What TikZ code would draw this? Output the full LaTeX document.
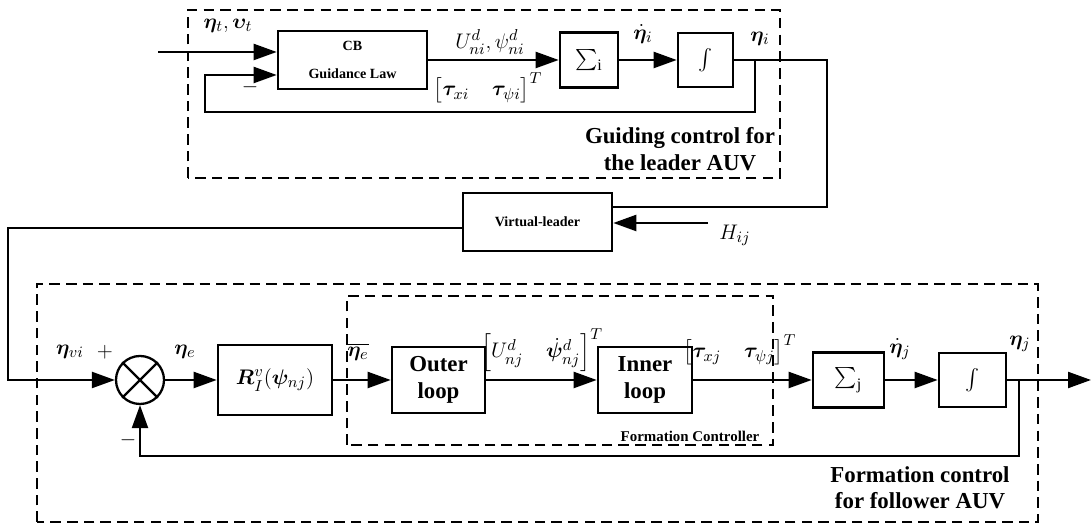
\documentclass[tikz,border=0pt]{standalone}
\usepackage{amsmath,bm}
\usepackage{fontspec}
\setmainfont{Liberation Serif}
\usetikzlibrary{arrows.meta}

\begin{document}
\begin{tikzpicture}[font=\fontsize{13}{15}\selectfont,
    block/.style={draw, line width=1.5pt, inner sep=0pt, align=center},
    frame/.style={draw, line width=1.5pt, dash pattern=on 6pt off 3.5pt},
    sig/.style={line width=1.3pt, -{Triangle[length=0.46cm,width=0.32cm]}},
    wire/.style={line width=1.3pt},
    lab/.style={font=\fontsize{8}{10}\selectfont\bfseries, align=center},
    note/.style={font=\fontsize{13}{15}\selectfont\bfseries, align=center}]
    \useasboundingbox (0,0) rectangle (21.84,10.48);

    % dashed frames
    \draw[frame] (3.76,6.92) rectangle (15.6,10.28);
    \draw[frame] (0.74,0.04) rectangle (20.76,4.8);
    \draw[frame] (6.94,1.58) rectangle (15.46,4.56);

    % leader loop
    \node[block, lab, minimum width=2.98cm, minimum height=1.16cm] (cb) at (7.05,9.28) {CB\\[6pt]Guidance Law};
    \node[block, minimum width=1.16cm, minimum height=1.1cm] (sumi) at (11.78,9.28) {$\sum_{\mathrm{i}}$};
    \node[block, minimum width=1.1cm, minimum height=1.08cm] (inti) at (14.11,9.28) {$\int$};
    \node[block, lab, minimum width=2.98cm, minimum height=1.16cm] (vl) at (10.75,6.04) {\raisebox{-3pt}{Virtual-leader}};

    % follower loop
    \node[draw, circle, line width=1.3pt, minimum size=0.96cm] (sum) at (2.8,2.88) {};
    \draw[line width=1.3pt] (sum.45) -- (sum.225) (sum.135) -- (sum.315);
    \node[block, minimum width=2.28cm, minimum height=1.4cm] (rot) at (5.5,2.88) {$\bm{R}_I^v(\bm{\psi}_{nj})$};
    \node[block, note, minimum width=1.86cm, minimum height=1.32cm] (outer) at (8.77,2.88) {Outer\\loop};
    \node[block, note, minimum width=1.88cm, minimum height=1.32cm] (inner) at (12.9,2.88) {Inner\\loop};
    \node[block, minimum width=1.42cm, minimum height=1.1cm] (sumj) at (16.97,2.88) {$\sum_{\mathrm{j}}$};
    \node[block, minimum width=1.34cm, minimum height=1.08cm] (intj) at (19.45,2.88) {$\int$};

    \coordinate (tin) at (3.16,9.44);
    \coordinate (ti) at (15.1,9.28);
    \coordinate (tl) at (4.1,8.24);
    \coordinate (lo) at (16.54,6.34);
    \coordinate (h) at (14.16,6.02);
    \coordinate (vo) at (0.16,5.92);
    \coordinate (tj) at (20.38,2.88);
    \coordinate (jo) at (21.82,2.88);
    \coordinate (fb) at (2.8,1.36);

    \draw[sig] (tin) -- (tin -| cb.west);
    \draw[sig] (ti) |- (tl) |- ([yshift=-0.3cm]cb.west);
    \draw[sig] (cb) -- (sumi);
    \draw[sig] (sumi) -- (inti);
    \draw[wire] (inti) -| (lo) -- (lo -| vl.east);
    \draw[sig] (h) -- (h -| vl.east);
    \draw[sig] (vl.west |- vo) -- (vo) |- (sum);
    \draw[sig] (sum) -- (rot);
    \draw[sig] (rot) -- (outer);
    \draw[sig] (outer) -- (inner);
    \draw[sig] (inner) -- (sumj);
    \draw[sig] (sumj) -- (intj);
    \draw[sig] (intj) -- (jo);
    \draw[sig] (tj) |- (fb) -- (sum);

    % signal labels
    \node (lt) at (4.56,9.96) {$\bm{\eta}_t,\bm{\upsilon}_t$};
    \node (lm1) at (5.0,8.74) {$-$};
    \node (lu) at (9.8,9.64) {$U_{ni}^d,\psi_{ni}^d$};
    \node (ltau) at (9.76,8.72) {$\left[\bm{\tau}_{xi}\quad\bm{\tau}_{\psi i}\right]^T$};
    \node (ldi) at (12.86,9.8) {$\dot{\bm{\eta}}_i$};
    \node (li) at (15.2,9.7) {$\bm{\eta}_i$};
    \node[note] (lguide) at (13.6,7.5) {Guiding control for\\the leader AUV};
    \node (lh) at (14.7,5.78) {$H_{ij}$};
    \node (lvi) at (1.4,3.44) {$\bm{\eta}_{vi}$};
    \node (lp) at (2.1,3.44) {$+$};
    \node (le) at (3.7,3.44) {$\bm{\eta}_e$};
    \node (lbe) at (7.16,3.44) {$\overline{\bm{\eta}_e}$};
    \node (luj) at (10.84,3.48) {$\left[U_{nj}^d\quad\dot{\bm{\psi}}_{nj}^d\right]^T$};
    \node (ltj) at (14.8,3.48) {$\left[\bm{\tau}_{xj}\quad\bm{\tau}_{\psi j}\right]^T$};
    \node (ldj) at (18.0,3.5) {$\dot{\bm{\eta}}_j$};
    \node (lj) at (20.4,3.6) {$\bm{\eta}_j$};
    \node (lm2) at (2.56,1.68) {$-$};
    \node[lab, font=\fontsize{8.5}{10}\selectfont\bfseries] (lfc) at (13.8,1.76) {Formation Controller};
    \node[note] (lfol) at (18.4,0.72) {Formation control\\for follower AUV};
\end{tikzpicture}
\end{document}
